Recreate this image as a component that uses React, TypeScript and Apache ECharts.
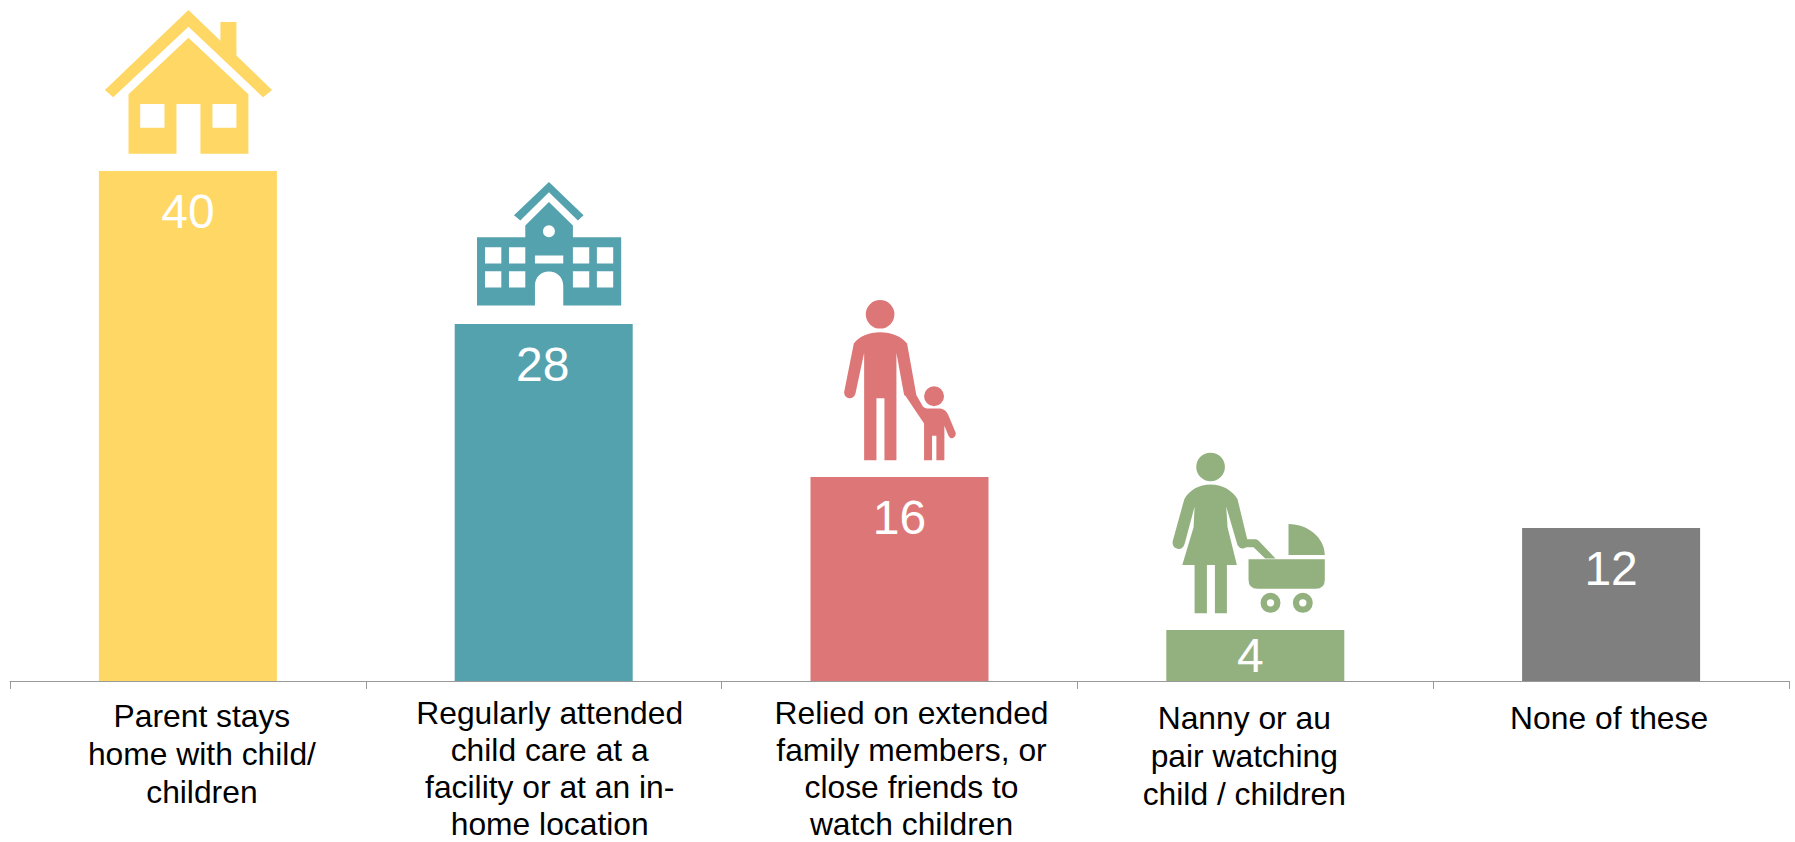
import React, { useEffect, useRef } from "react";
import * as echarts from "echarts";

const categories = [
  "Parent stays\nhome with child/\nchildren",
  "Regularly attended\nchild care at a\nfacility or at an in-\nhome location",
  "Relied on extended\nfamily members, or\nclose friends to\nwatch children",
  "Nanny or au\npair watching\nchild / children",
  "None of these",
];
const values = [40, 28, 16, 4, 12];
const colors = ["#FFD764", "#55A2AF", "#DD7777", "#93B07F", "#7F7F7F"];
const labelShiftX = [28, 12, 24, -22, -4];
const labelShiftY = [2.5, 0, 0, 4.5, 4.5];
const labelLineHeight = [38, 37, 37, 38, 38];

// Icon outlines, in 3x pixels. anchor = [bar centre x, bar top y] in the same units.
const iconHouse =
  "M326 30 L422 122 L422 66 L470 66 L470 167 L577 270 L550 292 L326 80 L100 292 L75 270 Z " +
  "M326 113 L506 283 L506 462 L362 462 L362 312 L290 312 L290 462 L146 462 L146 283 Z " +
  "M181 312 L181 384 L254 384 L254 312 Z M398 312 L398 384 L470 384 L470 312 Z";
const iconSchool =
  "M298 66 L402 166 L385 182 L298 97 L212 182 L193 166 Z " +
  "M298 126 L370 197 L370 232 L515 232 L515 437 L341 437 L341 378 C341 352 322 335 298 335 C274 335 256 352 256 378 L256 437 L82 437 L82 232 L227 232 L227 197 Z " +
  "M280 214 A18 18 0 0 0 316 214 A18 18 0 0 0 280 214 Z " +
  "M256 287 L256 311 L341 311 L341 287 Z " +
  "M106 262 L106 311 L155 311 L155 262 Z M178 262 L178 311 L227 311 L227 262 Z " +
  "M370 262 L370 311 L419 311 L419 262 Z M442 262 L442 311 L491 311 L491 262 Z " +
  "M106 334 L106 383 L155 383 L155 334 Z M178 334 L178 383 L227 383 L227 334 Z " +
  "M370 334 L370 383 L419 383 L419 334 Z M442 334 L442 383 L491 383 L491 334 Z";
const iconFamily =
  "M138 102 A43 43 0 0 1 224 102 A43 43 0 0 1 138 102 Z " +
  "M313 348 A30 30 0 0 1 373 348 A30 30 0 0 1 313 348 Z " +
  "M181 156 C215 156 245 168 262 190 L290 345 L310 380 Q316 385 322 385 L362 385 Q378 387 386 405 L408 458 Q410 470 398 474 Q390 475 386 466 L374 437 L374 540 L350 540 L350 467 L337 467 L337 540 L313 540 L313 430 L258 348 Q252 345 252 338 L230 218 L230 540 L194 540 L194 354 L170 354 L170 540 L133 540 L133 218 L107 340 Q102 355 88 354 Q72 350 73 335 L102 190 C118 168 147 156 181 156 Z";
const iconNanny =
  "M138 81 A43 43 0 0 1 224 81 A43 43 0 0 1 138 81 Z " +
  "M181 134 C215 134 245 150 262 178 L291 298 L316 298 Q322 298 326 303 L376 356 L345 356 L310 322 L288 322 Q272 332 262 316 L228 200 L232 262 L260 375 L230 375 L230 520 L194 520 L194 375 L170 375 L170 520 L133 520 L133 375 L96 375 L130 262 L133 200 L103 312 Q98 327 85 327 Q65 325 67 305 L102 178 C118 150 147 134 181 134 Z " +
  "M295 358 L524 358 L524 420 Q524 447 497 447 L322 447 Q295 447 295 420 Z " +
  "M415 252 C475 252 524 295 524 345 L415 345 Z " +
  "M331 489 A30 30 0 0 1 391 489 A30 30 0 0 1 331 489 Z M350 489 A11 11 0 0 0 372 489 A11 11 0 0 0 350 489 Z " +
  "M428 489 A30 30 0 0 1 488 489 A30 30 0 0 1 428 489 Z M447 489 A11 11 0 0 0 469 489 A11 11 0 0 0 447 489 Z";

const icons = [
  { path: iconHouse, anchor: [324, 513] },
  { path: iconSchool, anchor: [282, 492] },
  { path: iconFamily, anchor: [239, 590] },
  { path: iconNanny, anchor: [315, 570] },
];

const FONT = "'Liberation Sans', Arial, sans-serif";

export default function App() {
  const ref = useRef<HTMLDivElement>(null);
  useEffect(() => {
    document.body.style.margin = "0";
    const chart = echarts.init(ref.current!, null, { renderer: "svg" });
    chart.setOption({
      animation: false,
      grid: { left: 10, right: 6, top: 43.5, bottom: 161, outerBoundsMode: "none" },
      xAxis: {
        type: "category",
        data: categories.map((c, i) => ({
          value: c,
          textStyle: {
            lineHeight: labelLineHeight[i],
            padding: [labelShiftY[i], Math.max(-labelShiftX[i], 0), 0, Math.max(labelShiftX[i], 0)],
          },
        })),
        axisLine: { lineStyle: { color: "#999999", width: 1 } },
        axisTick: { show: true, length: 8, lineStyle: { color: "#999999", width: 1 } },
        axisLabel: {
          interval: 0,
          margin: 13,
          color: "#000000",
          fontFamily: FONT,
          fontSize: 31.8,
          lineHeight: 38,
          align: "center",
          verticalAlign: "top",
        },
      },
      yAxis: { type: "value", min: 0, max: 50, show: false, splitLine: { show: false } },
      series: [
        {
          type: "bar",
          barWidth: 178,
          data: values.map((v, i) => ({
            value: v,
            itemStyle: { color: colors[i] },
            label:
              v < 5
                ? { position: "inside", offset: [-5, 0] }
                : { position: "insideTop", distance: 16, offset: [i === 1 ? -1 : 0, 0] },
          })),
          label: {
            show: true,
            color: "#FFFFFF",
            fontFamily: FONT,
            fontSize: 48,
          },
        },
        {
          type: "custom",
          clip: false,
          silent: true,
          data: icons.map((_, i) => [i, values[i]]),
          encode: { x: 0, y: 1 },
          renderItem: (_p: any, api: any) => {
            const i = api.value(0);
            const [cx, top] = api.coord([i, api.value(1)]);
            const icon = icons[i];
            return {
              type: "path",
              x: cx - icon.anchor[0] / 3,
              y: top - icon.anchor[1] / 3,
              scaleX: 1 / 3,
              scaleY: 1 / 3,
              shape: { pathData: icon.path },
              style: { fill: colors[i] },
            };
          },
        },
      ],
    });
    return () => chart.dispose();
  }, []);
  return <div ref={ref} style={{ width: 1795, height: 842 }} />;
}
